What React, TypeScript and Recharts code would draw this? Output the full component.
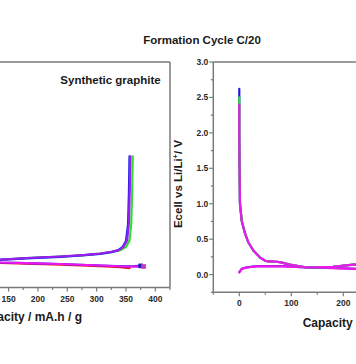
import React from "react";
import { LineChart, Line, XAxis, YAxis, ReferenceLine } from "recharts";

// ---------- tick values ----------
const leftXTicks = [125, 150, 175, 200, 225, 250, 275, 300, 325, 350, 375, 400, 425];
const rightXTicks = [-50, 0, 50, 100, 150, 200, 250, 300, 350, 400];
const rightYTicks = [-0.25, 0, 0.25, 0.5, 0.75, 1, 1.25, 1.5, 1.75, 2, 2.25, 2.5, 2.75, 3];

// ---------- left panel (Synthetic graphite) ----------
// delithiation (upper) curves
const lGreenUpCap = [0, 3, 10, 30, 60, 100, 136, 180, 238, 280, 306, 326, 341, 350, 356, 359, 360.5, 361.5];
const lGreenUpV = [0.03, 0.07, 0.09, 0.1, 0.11, 0.128, 0.15, 0.172, 0.194, 0.217, 0.237, 0.262, 0.288, 0.335, 0.425, 0.67, 1.14, 1.64];
const lBlueUpCap = [0, 3, 10, 30, 60, 100, 136, 180, 238, 280, 306, 325, 336, 344, 350, 353.5, 355, 356];
const lBlueUpV = [0.03, 0.07, 0.09, 0.1, 0.11, 0.125, 0.148, 0.17, 0.192, 0.215, 0.235, 0.26, 0.285, 0.33, 0.42, 0.66, 1.12, 1.64];
const lPurpleUpCap = [0, 3, 10, 30, 60, 100, 136, 180, 238, 280, 306, 325, 338, 346, 352, 355, 356.5, 357.5];
const lPurpleUpV = [0.03, 0.07, 0.09, 0.1, 0.11, 0.13, 0.153, 0.175, 0.197, 0.22, 0.24, 0.265, 0.29, 0.34, 0.43, 0.68, 1.15, 1.64];
// lithiation (lower) curves
const lRedDownCap = [0, 1, 3, 8, 20, 40, 70, 100, 136, 180, 238, 306, 340, 356];
const lRedDownV = [2.55, 1.2, 0.7, 0.4, 0.25, 0.19, 0.16, 0.13, 0.106, 0.093, 0.081, 0.058, 0.043, 0.03];
const lBlueDownCap = [0, 1, 3, 8, 20, 40, 70, 100, 136, 180, 238, 306, 349, 365, 375];
const lBlueDownV = [2.62, 1.2, 0.7, 0.4, 0.25, 0.19, 0.16, 0.13, 0.11, 0.1, 0.089, 0.067, 0.055, 0.058, 0.062];
const lMagentaDownCap = [0, 1, 3, 8, 20, 40, 70, 100, 136, 180, 238, 306, 349, 370, 380];
const lMagentaDownV = [2.4, 1.2, 0.7, 0.4, 0.25, 0.19, 0.16, 0.13, 0.11, 0.1, 0.089, 0.067, 0.053, 0.05, 0.053];

// ---------- right panel ----------
const rDischargeCap = [0, 0, 0.5, 1.3, 4.6, 11, 17, 27, 40, 50, 55, 65, 78, 97, 130, 180, 219, 260, 300];
const rBlueDischargeV = [2.62, 2.0, 1.5, 1.0, 0.76, 0.58, 0.46, 0.34, 0.24, 0.195, 0.185, 0.185, 0.175, 0.14, 0.1, 0.11, 0.14, 0.15, 0.16];
const rGreenDischargeV = [2.5, 2.0, 1.5, 1.0, 0.76, 0.58, 0.46, 0.34, 0.24, 0.195, 0.185, 0.185, 0.175, 0.14, 0.1, 0.11, 0.14, 0.15, 0.16];
const rMagentaDischargeV = [2.4, 2.0, 1.5, 1.0, 0.76, 0.58, 0.46, 0.34, 0.24, 0.195, 0.185, 0.185, 0.175, 0.14, 0.1, 0.11, 0.14, 0.15, 0.16];
const rChargeCap = [0, 4.6, 14, 33, 84, 130, 180, 219, 260, 300];
const rBlueChargeV = [0.035, 0.082, 0.102, 0.12, 0.12, 0.103, 0.093, 0.083, 0.078, 0.073];
const rMagentaChargeV = [0.03, 0.08, 0.1, 0.117, 0.117, 0.1, 0.09, 0.08, 0.075, 0.07];

const AXIS = "#7a7a7a";
const TXT = "#2a2a2a";
const FONT = "'Liberation Sans', Arial, sans-serif";

const pts = (xs: number[], ys: number[]) => xs.map((x, i) => ({ x, y: ys[i] }));

const makeXTick = (every: number) => (props: any) => {
  const { x, y, payload } = props;
  const v = payload.value as number;
  const major = Math.abs(v % every) < 1e-6;
  return (
    <g>
      <line x1={x} x2={x} y1={y} y2={y + (major ? 4 : 2.5)} stroke={AXIS} strokeWidth={1.2} />
      {major && (
        <text x={x} y={y + 14} textAnchor="middle" fontSize={8.5} fontWeight="bold" fill={TXT} fontFamily={FONT}>
          {v}
        </text>
      )}
    </g>
  );
};

const yTick = (props: any) => {
  const { x, y, payload } = props;
  const v = payload.value as number;
  const major = Math.abs(v * 2 - Math.round(v * 2)) < 1e-6;
  return (
    <g>
      <line x1={x - (major ? 4 : 2.5)} x2={x} y1={y} y2={y} stroke={AXIS} strokeWidth={1.2} />
      {major && (
        <text x={x - 5} y={y + 3} textAnchor="end" fontSize={8.5} fontWeight="bold" fill={TXT} fontFamily={FONT}>
          {v.toFixed(1)}
        </text>
      )}
    </g>
  );
};

const endMarker = (color: string, n: number) => (props: any) => {
  const { cx, cy, index } = props;
  if (index !== n - 1) return <g key={index} />;
  return <rect key={index} x={cx - 1.8} y={cy - 1.8} width={3.6} height={3.6} fill={color} stroke={color} />;
};

const lineBase = {
  type: "linear" as const,
  dataKey: "y",
  strokeWidth: 2.2,
  dot: false,
  isAnimationActive: false,
  strokeLinejoin: "round" as const,
  strokeLinecap: "round" as const,
};

export default function App() {
  return (
    <div
      style={{
        position: "absolute",
        left: 0,
        top: 0,
        width: 356,
        height: 364,
        overflow: "hidden",
        background: "#fff",
        fontFamily: FONT,
      }}
    >
      {/* Left panel */}
      <div style={{ position: "absolute", left: -130, top: 0 }}>
        <LineChart width={305} height={364} margin={{ top: 62, right: 5, bottom: 46.5, left: 21.2 }}>
          <XAxis
            type="number"
            dataKey="x"
            domain={[-50, 425]}
            ticks={leftXTicks}
            interval={0}
            tickSize={0}
            tickMargin={0}
            tickLine={false}
            axisLine={{ stroke: AXIS, strokeWidth: 1.5 }}
            tick={makeXTick(50)}
            height={30}
            allowDataOverflow
          />
          <YAxis type="number" domain={[-0.25, 3]} hide allowDataOverflow />
          <ReferenceLine y={3} stroke={AXIS} strokeWidth={1.5} />
          <ReferenceLine x={425} stroke={AXIS} strokeWidth={1.5} />
          <Line {...lineBase} data={pts(lRedDownCap, lRedDownV)} stroke="#ee1c1c" />
          <Line
            {...lineBase}
            data={pts(lBlueDownCap, lBlueDownV)}
            stroke="#2020e0"
            dot={endMarker("#2020c0", lBlueDownCap.length)}
          />
          <Line
            {...lineBase}
            data={pts(lMagentaDownCap, lMagentaDownV)}
            stroke="#ee16ee"
            dot={endMarker("#c040c0", lMagentaDownCap.length)}
          />
          <Line {...lineBase} data={pts(lGreenUpCap, lGreenUpV)} stroke="#2ee02e" />
          <Line {...lineBase} data={pts(lBlueUpCap, lBlueUpV)} stroke="#2222ee" />
          <Line {...lineBase} data={pts(lPurpleUpCap, lPurpleUpV)} stroke="#9a1ef0" />
        </LineChart>
      </div>

      {/* Right panel */}
      <div style={{ position: "absolute", left: 160, top: 0 }}>
        <LineChart width={297.3} height={364} margin={{ top: 62, right: 10, bottom: 41.7, left: 13.3 }}>
          <XAxis
            type="number"
            dataKey="x"
            domain={[-50, 400]}
            ticks={rightXTicks}
            interval={0}
            tickSize={0}
            tickMargin={0}
            tickLine={false}
            axisLine={{ stroke: AXIS, strokeWidth: 1.5 }}
            tick={makeXTick(100)}
            height={30}
            allowDataOverflow
          />
          <YAxis
            type="number"
            domain={[-0.25, 3]}
            ticks={rightYTicks}
            interval={0}
            tickSize={0}
            tickMargin={0}
            tickLine={false}
            axisLine={{ stroke: AXIS, strokeWidth: 1.5 }}
            tick={yTick}
            width={40}
            allowDataOverflow
          />
          <ReferenceLine y={3} stroke={AXIS} strokeWidth={1.5} />
          <ReferenceLine x={400} stroke={AXIS} strokeWidth={1.5} />
          <Line {...lineBase} data={pts(rChargeCap, rBlueChargeV)} stroke="#6a2ae8" />
          <Line {...lineBase} data={pts(rChargeCap, rMagentaChargeV)} stroke="#ee16ee" />
          <Line {...lineBase} data={pts(rDischargeCap, rBlueDischargeV)} stroke="#1c1ce0" />
          <Line {...lineBase} data={pts(rDischargeCap, rGreenDischargeV)} stroke="#2ee02e" />
          <Line {...lineBase} data={pts(rDischargeCap, rMagentaDischargeV)} stroke="#ee16ee" />
        </LineChart>
      </div>

      {/* Titles and axis labels */}
      <svg
        width={356}
        height={364}
        style={{ position: "absolute", left: 0, top: 0, pointerEvents: "none" }}
        fontFamily={FONT}
      >
        <text x={202} y={44} textAnchor="middle" fontSize={11.5} fontWeight="bold" fill="#1a1a1a">
          Formation Cycle C/20
        </text>
        <text x={110.5} y={83.5} textAnchor="middle" fontSize={11.5} fontWeight="bold" fill="#1a1a1a">
          Synthetic graphite
        </text>
        <text x={82} y={321} textAnchor="end" fontSize={12} fontWeight="bold" fill="#1a1a1a">
          Capacity / mA.h / g
        </text>
        <text x={302.7} y={326.5} textAnchor="start" fontSize={12} fontWeight="bold" fill="#1a1a1a">
          Capacity / mA.h / g
        </text>
        <text
          x={182}
          y={184}
          textAnchor="middle"
          fontSize={11.5}
          fontWeight="bold"
          fill="#1a1a1a"
          transform="rotate(-90 182 184)"
        >
          Ecell vs Li/Li
          <tspan fontSize={7.5} dy={-4}>+</tspan>
          <tspan dy={4}>/ V</tspan>
        </text>
      </svg>
    </div>
  );
}
